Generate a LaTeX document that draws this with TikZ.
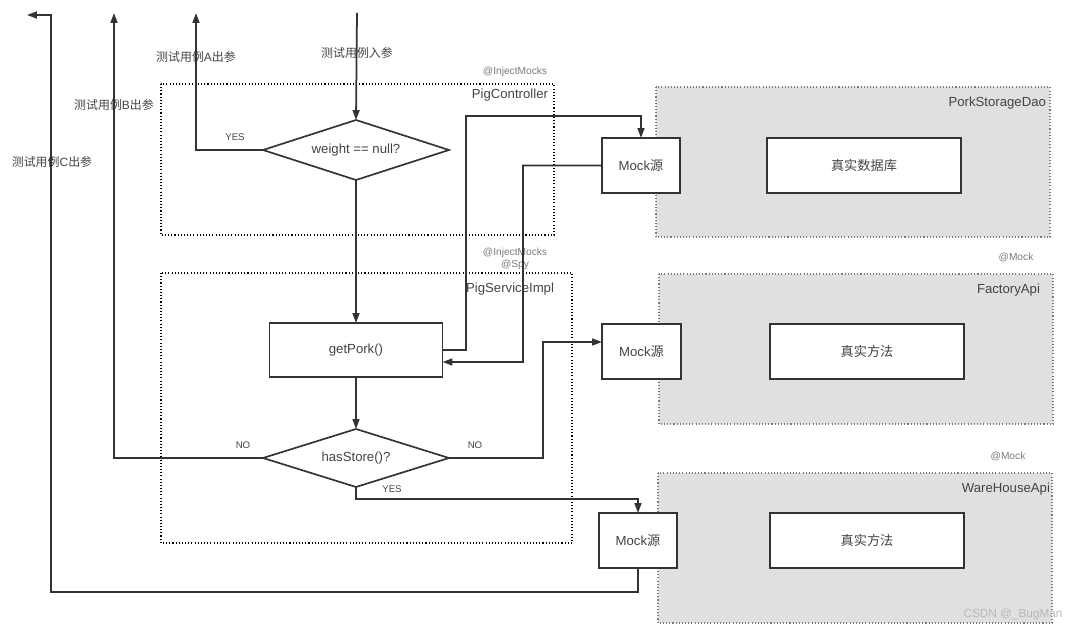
\documentclass[tikz,border=0pt]{standalone}
\usepackage{fontspec}
\setmainfont{Liberation Sans}
\newfontfamily\cjk{Noto Sans CJK SC}
\usetikzlibrary{arrows.meta,shapes.geometric}
\definecolor{linegray}{HTML}{333333}
\definecolor{textgray}{HTML}{444444}
\definecolor{notegray}{HTML}{7A7A7A}
\definecolor{panelgray}{HTML}{E0E0E0}

\begin{document}
\begin{tikzpicture}[x=0.02cm,y=-0.02cm,
    every node/.style={inner sep=0pt, outer sep=0pt, text=textgray, font=\fontsize{7.5}{9}\selectfont},
    box/.style={draw=linegray, line width=0.95pt, fill=white},
    decision/.style={diamond, aspect=3.1, draw=linegray, line width=0.95pt, fill=white, minimum width=3.72cm},
    arr/.style={draw=linegray, line width=1pt, -{Triangle[length=5.6pt,width=3.9pt]}},
    frame/.style={draw=black, line width=0.6pt, dash pattern=on 0.6pt off 1.2pt},
    panel/.style={draw=notegray, fill=panelgray, line width=0.6pt, dash pattern=on 0.6pt off 1.2pt},
    note/.style={text=notegray, font=\fontsize{5.8}{7}\selectfont},
    tag/.style={font=\fontsize{5.5}{7}\selectfont},
    case/.style={font=\fontsize{6.8}{8}\selectfont},
    title/.style={anchor=east}]
  \useasboundingbox (0,0) rectangle (1080,631);

  \draw[panel] (656,87) rectangle (1050,237);
  \draw[panel] (659,274) rectangle (1053,424);
  \draw[panel] (658,473) rectangle (1052,623);
  \draw[frame] (161,84) rectangle (554,235);
  \draw[frame] (161,273) rectangle (572,543);

  \node[title] (ctrlT) at (548,95) {PigController};
  \node[title] (svcT) at (554,289) {PigServiceImpl};
  \node[title] (daoT) at (1046,103) {PorkStorageDao};
  \node[title] (facT) at (1040,290) {FactoryApi};
  \node[title] (wareT) at (1050,489) {WareHouseApi};

  \node[note] (injCtrl) at (515,72) {@InjectMocks};
  \node[note] (injSvc) at (515,253) {@InjectMocks};
  \node[note] (spySvc) at (515,265) {@Spy};
  \node[note] (mockF) at (1016,258) {@Mock};
  \node[note] (mockW) at (1008,457) {@Mock};

  \node[decision, minimum height=1.2cm] (weight) at (356,150) {weight == null?};
  \node[box, minimum width=3.46cm, minimum height=1.08cm] (getPork) at (356,350) {getPork()};
  \node[decision, minimum height=1.16cm] (hasStore) at (356,458) {hasStore()?};

  \node[box, minimum width=1.56cm, minimum height=1.1cm] (mockDao) at (641,165.5) {Mock{\cjk 源}};
  \node[box, minimum width=3.88cm, minimum height=1.1cm] (realDao) at (864,165.5) {{\cjk 真实数据库}};
  \node[box, minimum width=1.58cm, minimum height=1.1cm] (mockFactory) at (641.5,351.5) {Mock{\cjk 源}};
  \node[box, minimum width=3.88cm, minimum height=1.1cm] (realFactory) at (867,351.5) {{\cjk 真实方法}};
  \node[box, minimum width=1.56cm, minimum height=1.1cm] (mockWare) at (638,540.5) {Mock{\cjk 源}};
  \node[box, minimum width=3.88cm, minimum height=1.1cm] (realWare) at (867,540.5) {{\cjk 真实方法}};

  \node[case] (caseIn) at (357,53) {{\cjk 测试用例入参}};
  \node[case] (caseA) at (196,57) {{\cjk 测试用例}A{\cjk 出参}};
  \node[case] (caseB) at (114,105) {{\cjk 测试用例}B{\cjk 出参}};
  \node[case] (caseC) at (52,162) {{\cjk 测试用例}C{\cjk 出参}};
  \node[tag] (yesA) at (235,137) {YES};
  \node[tag] (noB) at (243,445) {NO};
  \node[tag] (noF) at (475,445) {NO};
  \node[tag] (yesW) at (392,489) {YES};

  \coordinate (inTop) at (357,13);
  \coordinate (outA) at (196,13);
  \coordinate (outB) at (114,13);
  \coordinate (outC) at (27,15);

  \draw[arr] (inTop) -- (weight.north);
  \draw[arr] (weight.west) -| (outA);
  \draw[arr] (weight.south) -- (getPork.north);
  \draw[arr] (getPork.east) -| (466,116) -| (mockDao.north);
  \draw[arr] (mockDao.west) -| (523,362) -- ([yshift=-0.24cm]getPork.east);
  \draw[arr] (getPork.south) -- (hasStore.north);
  \draw[arr] (hasStore.west) -| (outB);
  \draw[arr] (hasStore.east) -| (543,342) -- ([yshift=0.19cm]mockFactory.west);
  \draw[arr] (hasStore.south) -- ++(0,12) -| (mockWare.north);
  \draw[arr] (mockWare.south) |- (51,592) |- (outC);

  \node[text=gray!55, font=\fontsize{6.7}{8}\selectfont] (csdn) at (1013,614) {CSDN @\_BugMan};
\end{tikzpicture}
\end{document}
